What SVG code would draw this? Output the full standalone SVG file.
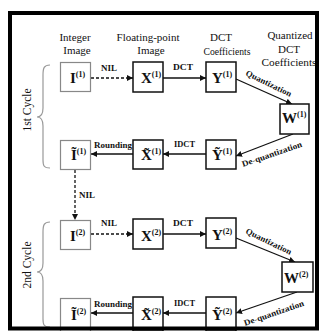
<svg xmlns="http://www.w3.org/2000/svg" width="320" height="331" viewBox="0 0 320 331">
<style>
.hd{font-family:"Liberation Serif","Times New Roman",serif;font-size:11px;fill:#111;text-anchor:middle}
.nl{font-family:"Liberation Serif","Times New Roman",serif;font-size:15px;font-weight:bold;fill:#111}
.sup{font-size:8px}
.lb{font-family:"Liberation Serif","Times New Roman",serif;font-size:8.5px;font-weight:bold;fill:#111}
.cy{font-family:"Liberation Serif","Times New Roman",serif;font-size:11.5px;fill:#111;text-anchor:middle}
.bx{fill:#fff;stroke:#111;stroke-width:1.5}
.gb{fill:#fff;stroke:#888;stroke-width:1.2}
.ln{fill:none;stroke:#111;stroke-width:1.3}
.dl{fill:none;stroke:#111;stroke-width:1.3;stroke-dasharray:3 2}
.br{fill:none;stroke:#999;stroke-width:1.2}
</style>
<defs>
<marker id="ah" markerUnits="userSpaceOnUse" markerWidth="6" markerHeight="6" refX="6" refY="3" orient="auto">
<path d="M0,0 L6,3 L0,6 z" fill="#111"/>
</marker>
</defs>
<rect x="0" y="0" width="320" height="331" fill="#fff"/>

<g id="headers">
<text class="hd" x="75" y="41">Integer</text>
<text class="hd" x="77" y="54">Image</text>
<text class="hd" x="148" y="41">Floating-point</text>
<text class="hd" x="151" y="54">Image</text>
<text class="hd" x="221" y="41">DCT</text>
<text class="hd" x="227" y="55" textLength="47" lengthAdjust="spacingAndGlyphs">Coefficients</text>
<text class="hd" x="290" y="39">Quantized</text>
<text class="hd" x="289" y="53">DCT</text>
<text class="hd" x="289" y="66" textLength="55" lengthAdjust="spacingAndGlyphs">Coefficients</text>
</g>

<g id="cycles">
<path class="br" d="M50,65 C44,65 43,68 43,75 L43,108 C43,114 41,117 37,117 C41,117 43,120 43,126 L43,160 C43,166 44,168 50,168"/>
<text class="cy" transform="translate(31,110) rotate(-90)">1st Cycle</text>
<path class="br" d="M50,222 C44,222 43,225 43,232 L43,263 C43,269 41,272 37,272 C41,272 43,275 43,281 L43,319 C43,325 44,327 50,327"/>
<text class="cy" transform="translate(31,265) rotate(-90)">2nd Cycle</text>
</g>

<g id="connectors">
<line class="dl" x1="91" y1="78" x2="133" y2="78" marker-end="url(#ah)"/>
<text class="lb" x="101" y="71" textLength="16" lengthAdjust="spacingAndGlyphs">NIL</text>
<line class="ln" x1="163" y1="78" x2="206" y2="78" marker-end="url(#ah)"/>
<text class="lb" x="173" y="70" textLength="20" lengthAdjust="spacingAndGlyphs">DCT</text>
<line class="ln" x1="236" y1="79" x2="292" y2="104" marker-end="url(#ah)"/>
<text class="lb" transform="translate(245,75) rotate(26)" textLength="50" lengthAdjust="spacingAndGlyphs">Quantization</text>
<line class="ln" x1="293" y1="134" x2="236" y2="156" marker-end="url(#ah)"/>
<text class="lb" transform="translate(243,167) rotate(-19)" textLength="63" lengthAdjust="spacingAndGlyphs">De-quantization</text>
<line class="ln" x1="206" y1="154" x2="163" y2="154" marker-end="url(#ah)"/>
<text class="lb" x="174" y="147" textLength="21" lengthAdjust="spacingAndGlyphs">IDCT</text>
<line class="ln" x1="133" y1="154" x2="91" y2="154" marker-end="url(#ah)"/>
<text class="lb" x="94" y="148" textLength="38" lengthAdjust="spacingAndGlyphs">Rounding</text>
<line class="dl" x1="75" y1="170" x2="75" y2="220" marker-end="url(#ah)"/>
<text class="lb" x="79" y="198" textLength="16" lengthAdjust="spacingAndGlyphs">NIL</text>

<line class="dl" x1="91" y1="234" x2="133" y2="234" marker-end="url(#ah)"/>
<text class="lb" x="101" y="226" textLength="16" lengthAdjust="spacingAndGlyphs">NIL</text>
<line class="ln" x1="163" y1="234" x2="206" y2="234" marker-end="url(#ah)"/>
<text class="lb" x="173" y="226" textLength="20" lengthAdjust="spacingAndGlyphs">DCT</text>
<line class="ln" x1="236" y1="238" x2="295" y2="262" marker-end="url(#ah)"/>
<text class="lb" transform="translate(245,233) rotate(26)" textLength="50" lengthAdjust="spacingAndGlyphs">Quantization</text>
<line class="ln" x1="297" y1="292" x2="236" y2="313" marker-end="url(#ah)"/>
<text class="lb" transform="translate(245,326) rotate(-19)" textLength="63" lengthAdjust="spacingAndGlyphs">De-quantization</text>
<line class="ln" x1="206" y1="313" x2="163" y2="313" marker-end="url(#ah)"/>
<text class="lb" x="174" y="306" textLength="21" lengthAdjust="spacingAndGlyphs">IDCT</text>
<line class="ln" x1="133" y1="313" x2="91" y2="313" marker-end="url(#ah)"/>
<text class="lb" x="94" y="307" textLength="38" lengthAdjust="spacingAndGlyphs">Rounding</text>
</g>

<g id="I1"><rect class="gb" x="60.5" y="62.5" width="30" height="29"/><text class="nl" x="70" y="83">I<tspan class="sup" dy="-6">(1)</tspan></text></g>
<g id="X1"><rect class="bx" x="133" y="62" width="30" height="30"/><text class="nl" x="141" y="83">X<tspan class="sup" dy="-6">(1)</tspan></text></g>
<g id="Y1"><rect class="bx" x="206" y="62" width="30" height="30"/><text class="nl" x="212" y="83">Y<tspan class="sup" dy="-6">(1)</tspan></text></g>
<g id="W1"><rect class="bx" x="280" y="104" width="29" height="30"/><text class="nl" x="282" y="123">W<tspan class="sup" dy="-6">(1)</tspan></text></g>
<g id="Yt1"><rect class="bx" x="206" y="140" width="30" height="29"/><text class="nl" x="212" y="160">Ỹ<tspan class="sup" dy="-6">(1)</tspan></text></g>
<g id="Xt1"><rect class="bx" x="133" y="140" width="30" height="29"/><text class="nl" x="141" y="160">X̃<tspan class="sup" dy="-6">(1)</tspan></text></g>
<g id="It1"><rect class="gb" x="60.5" y="140.5" width="30" height="29"/><text class="nl" x="71" y="160">Ĩ<tspan class="sup" dy="-6">(1)</tspan></text></g>

<g id="I2"><rect class="gb" x="60.5" y="220.5" width="30" height="29"/><text class="nl" x="70" y="241">I<tspan class="sup" dy="-6">(2)</tspan></text></g>
<g id="X2"><rect class="bx" x="133" y="219" width="30" height="30"/><text class="nl" x="141" y="241">X<tspan class="sup" dy="-6">(2)</tspan></text></g>
<g id="Y2"><rect class="bx" x="206" y="218" width="30" height="30"/><text class="nl" x="212" y="240">Y<tspan class="sup" dy="-6">(2)</tspan></text></g>
<g id="W2"><rect class="bx" x="282" y="262" width="31" height="30"/><text class="nl" x="284" y="283">W<tspan class="sup" dy="-6">(2)</tspan></text></g>
<g id="Yt2"><rect class="bx" x="206" y="297" width="30" height="34"/><text class="nl" x="212" y="320">Ỹ<tspan class="sup" dy="-6">(2)</tspan></text></g>
<g id="Xt2"><rect class="bx" x="133" y="297" width="30" height="34"/><text class="nl" x="141" y="320">X̃<tspan class="sup" dy="-6">(2)</tspan></text></g>
<g id="It2"><rect class="gb" x="60.5" y="298.5" width="30" height="34"/><text class="nl" x="71" y="320">Ĩ<tspan class="sup" dy="-6">(2)</tspan></text></g>

<rect x="10" y="13" width="307" height="315.5" fill="none" stroke="#000" stroke-width="4"/>
</svg>
